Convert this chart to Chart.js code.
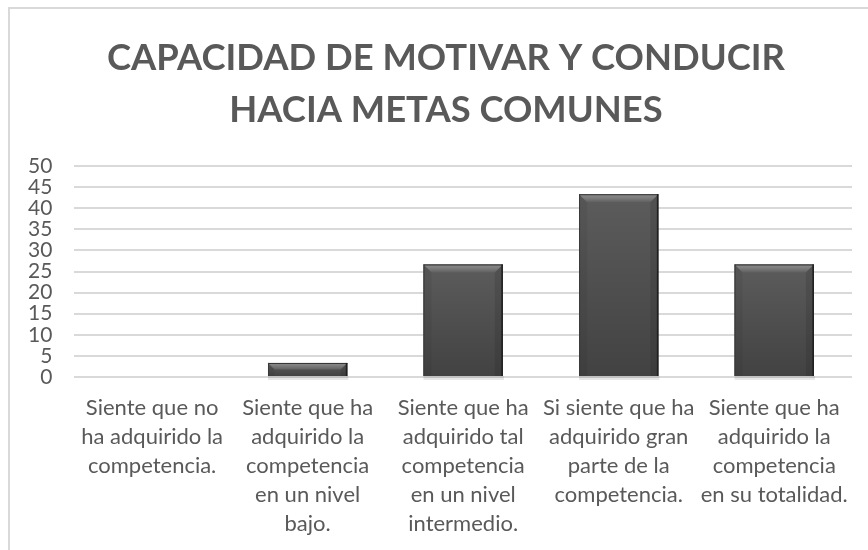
<!DOCTYPE html>
<html>
<head>
<meta charset="utf-8">
<script src="https://cdn.jsdelivr.net/npm/chart.js@4.4.1/dist/chart.umd.min.js"></script>
<style>
  html, body { margin: 0; padding: 0; background: #ffffff; }
  #wrap { position: relative; width: 868px; height: 550px; overflow: hidden; }
  #frame { position: absolute; left: 8px; top: 7px; width: 900px; height: 600px;
           border-left: 2px solid #d9d9d9; border-top: 2px solid #d9d9d9; box-sizing: border-box; }
  canvas { position: absolute; left: 0; top: 0; }
</style>
</head>
<body>
<div id="wrap">
  <div id="frame"></div>
  <canvas id="c" width="868" height="550"></canvas>
</div>
<script>
const titleLines = ["CAPACIDAD DE MOTIVAR Y CONDUCIR", "HACIA METAS COMUNES"];
const categories = [
  ["Siente que no", "ha adquirido la", "competencia."],
  ["Siente que ha", "adquirido la", "competencia", "en un nivel", "bajo."],
  ["Siente que ha", "adquirido tal", "competencia", "en un nivel", "intermedio."],
  ["Si siente que ha", "adquirido gran", "parte de la", "competencia."],
  ["Siente que ha", "adquirido la", "competencia", "en su totalidad."]
];
const values = [0, 3.33, 26.67, 43.33, 26.67];
const yMin = 0, yMax = 50, yStep = 5;

const titleShift = {
  id: 'titleShift',
  afterLayout(chart) {
    if (chart.titleBlock) {
      chart.titleBlock.left += 34;
    }
  }
};

const bevelPlugin = {
  id: 'bevel',
  afterDatasetsDraw(chart) {
    const ctx = chart.ctx;
    const meta = chart.getDatasetMeta(0);
    meta.data.forEach((bar) => {
      const p = bar.getProps(['x', 'y', 'base', 'width'], true);
      const l = p.x - p.width / 2, r = p.x + p.width / 2;
      const t = Math.min(p.y, p.base), b = Math.max(p.y, p.base);
      const h = b - t;
      if (h < 1) return;
      const bv = Math.min(8, h / 2);
      ctx.save();
      ctx.fillStyle = 'rgba(190,190,190,0.9)';
      ctx.fillRect(l, b, p.width + 1, 2);
      ctx.fillStyle = 'rgba(225,225,225,0.8)';
      ctx.fillRect(l, b + 2, p.width + 1, 2);
      const bg = ctx.createLinearGradient(0, t, 0, b);
      bg.addColorStop(0, '#5c5c5c');
      bg.addColorStop(1, '#424242');
      ctx.fillStyle = bg;
      ctx.fillRect(l, t, p.width, h);
      const tg = ctx.createLinearGradient(0, t, 0, t + bv);
      tg.addColorStop(0, '#8e8e8e');
      tg.addColorStop(0.5, '#7a7a7a');
      tg.addColorStop(1, '#606060');
      ctx.fillStyle = tg;
      ctx.beginPath();
      ctx.moveTo(l, t); ctx.lineTo(r, t); ctx.lineTo(r - bv, t + bv); ctx.lineTo(l + bv, t + bv); ctx.closePath();
      ctx.fill();
      ctx.fillStyle = 'rgba(30,30,30,0.08)';
      ctx.beginPath();
      ctx.moveTo(l, t); ctx.lineTo(l + bv, t + bv); ctx.lineTo(l + bv, b); ctx.lineTo(l, b); ctx.closePath();
      ctx.fill();
      ctx.fillStyle = 'rgba(20,20,20,0.14)';
      ctx.beginPath();
      ctx.moveTo(r, t); ctx.lineTo(r - bv, t + bv); ctx.lineTo(r - bv, b); ctx.lineTo(r, b); ctx.closePath();
      ctx.fill();
      ctx.fillStyle = '#333333';
      ctx.fillRect(l, t, p.width, 1);
      ctx.fillStyle = '#3a3a3a';
      ctx.fillRect(l, t, 1, h);
      ctx.fillStyle = '#1f1f1f';
      ctx.fillRect(r - 1.5, t, 1.5, h);
      ctx.restore();
    });
  }
};

new Chart(document.getElementById('c'), {
  type: 'bar',
  data: {
    labels: categories,
    datasets: [{
      data: values,
      backgroundColor: '#505050',
      borderWidth: 0,
      barPercentage: 0.51,
      categoryPercentage: 1.0
    }]
  },
  options: {
    responsive: false,
    animation: false,
    events: [],
    layout: { padding: { left: 6, right: 16, top: 24, bottom: 0 } },
    plugins: {
      legend: { display: false },
      tooltip: { enabled: false },
      title: {
        display: true,
        text: titleLines,
        color: '#595959',
        font: { family: 'Lato', size: 36.4, weight: 'bold', lineHeight: 1.43 },
        padding: { top: 8, bottom: 30 }
      }
    },
    scales: {
      x: {
        grid: { display: false, drawTicks: false },
        border: { display: false },
        afterFit(scale) { scale.height = 173; },
        ticks: {
          color: '#595959',
          font: { family: 'Lato', size: 22, lineHeight: 1.32 },
          padding: 16,
          maxRotation: 0,
          autoSkip: false
        }
      },
      y: {
        min: yMin, max: yMax,
        grid: { color: '#d9d9d9', lineWidth: 2, drawTicks: false },
        border: { display: false },
        ticks: {
          stepSize: yStep,
          autoSkip: false,
          color: '#595959',
          font: { family: 'Lato', size: 21, lineHeight: 1.0 },
          padding: 22
        }
      }
    }
  },
  plugins: [titleShift, bevelPlugin]
});
</script>
</body>
</html>
